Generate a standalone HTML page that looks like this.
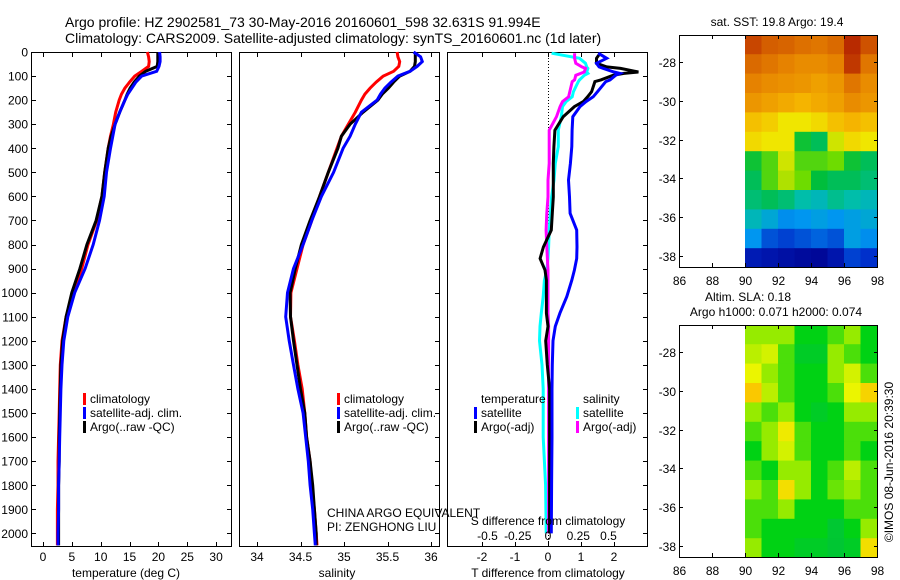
<!DOCTYPE html>
<html><head><meta charset="utf-8"><style>
html,body{margin:0;padding:0;background:#fff}
svg{display:block;font-family:"Liberation Sans",sans-serif}
</style></head><body>
<svg id="c" width="900" height="580" viewBox="0 0 900 580" xmlns="http://www.w3.org/2000/svg">
<text x="65" y="27" font-size="14">Argo profile: HZ 2902581_73 30-May-2016 20160601_598 32.631S 91.994E</text>
<text x="65" y="43" font-size="14">Climatology: CARS2009. Satellite-adjusted climatology: synTS_20160601.nc (1d later)</text>
<g id="g"></g>
</svg>
<script>
const depths=[0,20,40,60,80,100,125,150,175,200,250,300,350,400,500,600,700,800,900,1000,1100,1200,1300,1400,1500,1600,1700,1800,1900,2000,2050];
const tClim=[18.1,18.3,18.4,18.3,17.1,15.9,15.0,14.2,13.6,13.2,12.6,12.2,11.7,11.3,10.7,10.2,9.3,7.8,6.7,5.3,4.0,3.3,3.0,2.9,2.8,2.7,2.6,2.6,2.5,2.5,2.5];
const tSat=[20.2,20.3,20.3,20.1,19.7,17.1,16.1,15.4,14.7,14.2,13.3,12.5,12.1,11.7,11.0,10.6,9.8,8.7,7.3,5.5,4.3,3.6,3.3,3.1,3.0,2.9,2.8,2.7,2.7,2.6,2.6];
const tArgo=[19.9,19.9,19.9,19.8,17.8,16.7,15.8,15.1,14.6,14.2,13.3,12.5,11.8,11.3,10.7,10.2,9.2,7.6,6.4,5.0,4.0,3.4,3.1,3.0,2.9,2.8,2.8,2.7,2.7,2.7,2.7];
const sClim=[35.61,35.62,35.64,35.63,35.57,35.45,35.37,35.30,35.24,35.20,35.13,35.05,34.97,34.92,34.82,34.72,34.63,34.53,34.46,34.39,34.385,34.43,34.47,34.52,34.55,34.57,34.61,34.63,34.66,34.68,34.69];
const sSat=[35.80,35.88,35.90,35.84,35.76,35.62,35.54,35.47,35.42,35.38,35.20,35.13,35.07,34.99,34.88,34.74,34.63,34.53,34.42,34.35,34.33,34.37,34.42,34.47,34.53,34.56,34.59,34.61,34.64,34.66,34.67];
const sArgo=[35.82,35.82,35.82,35.81,35.76,35.64,35.57,35.51,35.44,35.39,35.22,35.07,34.97,34.93,34.82,34.72,34.61,34.51,34.44,34.38,34.385,34.42,34.46,34.50,34.55,34.57,34.61,34.64,34.66,34.68,34.68];
const dDepths=[5,26,47,62,68,83,89,97,116,123,165,186,206,227,269,325,393,463,532,602,670,740,810,858,906,948,1016,1085,1140,1200,1300,1400,1600,1800,2000];
const dtSat=[1.52,1.78,1.47,1.55,1.68,2.0,2.18,2.05,1.88,1.75,1.5,1.37,1.15,0.97,0.75,0.73,0.72,0.68,0.62,0.65,0.67,0.87,0.88,0.87,0.8,0.72,0.57,0.36,0.22,0.15,0.13,0.12,0.12,0.11,0.1];
const dtArgo=[1.58,1.47,1.47,1.78,2.2,2.74,2.3,1.97,1.6,1.42,1.32,1.2,1.07,0.8,0.46,0.21,0.18,0.16,0.16,0.16,0.13,0.1,-0.14,-0.24,-0.09,-0.05,-0.05,-0.05,0.0,-0.07,-0.02,0.05,0.05,0.05,0.05];
const dsSat=[0.03,0.26,0.31,0.32,0.33,0.32,0.33,0.3,0.26,0.25,0.21,0.2,0.15,0.12,0.11,0.085,0.085,0.06,0.05,0.03,0.02,0.01,0.005,0.0,-0.01,-0.03,-0.04,-0.055,-0.066,-0.07,-0.05,-0.04,-0.04,-0.02,-0.015];
const dsArgo=[0.22,0.22,0.23,0.28,0.31,0.3,0.27,0.23,0.22,0.2,0.18,0.17,0.12,0.1,0.07,0.01,0.01,0.01,0.0,0.0,-0.01,-0.016,-0.01,-0.005,0.0,0.0,0.0,0.0,0.005,0.005,0.005,0.005,0.005,0.005,0.005];
const depthTicks=[0,100,200,300,400,500,600,700,800,900,1000,1100,1200,1300,1400,1500,1600,1700,1800,1900,2000];
const tTicks=[0,5,10,15,20,25,30];
const sTicks=[34,34.5,35,35.5,36];
const dtTicks=[-2,-1,0,1,2];
const dsTickLabels=["-0.5","-0.25","0","0.25","0.5"];
const dsTicks=[-0.5,-0.25,0,0.25,0.5];
const latTicks=[-28,-30,-32,-34,-36,-38];
const lonTicks=[86,88,90,92,94,96,98];
const mapLons=[90,91,92,93,94,95,96,97];
const mapLats=[-26.6,-27.6,-28.6,-29.6,-30.6,-31.6,-32.6,-33.6,-34.6,-35.6,-36.6,-37.6];
const sstGrid=[
[0.90,0.86,0.85,0.83,0.82,0.84,0.94,0.88],
[0.84,0.82,0.80,0.78,0.78,0.80,0.92,0.82],
[0.80,0.78,0.77,0.76,0.74,0.76,0.82,0.78],
[0.76,0.74,0.72,0.70,0.72,0.74,0.78,0.76],
[0.68,0.66,0.62,0.62,0.64,0.68,0.70,0.68],
[0.64,0.62,0.62,0.47,0.44,0.60,0.64,0.62],
[0.47,0.52,0.60,0.52,0.52,0.54,0.47,0.44],
[0.44,0.52,0.58,0.54,0.46,0.44,0.44,0.42],
[0.42,0.44,0.42,0.38,0.36,0.40,0.38,0.36],
[0.36,0.32,0.27,0.28,0.30,0.28,0.30,0.32],
[0.28,0.20,0.18,0.20,0.22,0.20,0.30,0.27],
[0.10,0.08,0.06,0.04,0.03,0.08,0.18,0.16]];
const slaGrid=[
[0.55,0.55,0.55,0.45,0.45,0.50,0.55,0.45],
[0.58,0.60,0.50,0.42,0.42,0.55,0.50,0.45],
[0.62,0.55,0.50,0.45,0.45,0.55,0.60,0.50],
[0.70,0.58,0.50,0.45,0.45,0.50,0.62,0.68],
[0.55,0.50,0.55,0.45,0.42,0.45,0.55,0.55],
[0.50,0.55,0.64,0.50,0.45,0.45,0.50,0.50],
[0.45,0.55,0.60,0.50,0.45,0.45,0.50,0.45],
[0.50,0.45,0.55,0.55,0.45,0.50,0.58,0.50],
[0.55,0.50,0.66,0.55,0.45,0.52,0.55,0.50],
[0.50,0.50,0.55,0.45,0.45,0.45,0.50,0.50],
[0.50,0.45,0.45,0.45,0.45,0.40,0.45,0.55],
[0.55,0.45,0.45,0.42,0.42,0.38,0.42,0.66]];

const NS="http://www.w3.org/2000/svg";
const G=document.getElementById('g');
function mk(tag,attrs,parent){const e=document.createElementNS(NS,tag);for(const k in attrs)e.setAttribute(k,attrs[k]);(parent||G).appendChild(e);return e;}
const yD=d=>52+d*0.2407;
const xT=t=>43+t*5.77;
const xS=s=>257+(s-34)*87;
const xDT=v=>548+v*33;
const xDS=v=>548+v*121;
const PT=52,PB=546;
const panels=[[31,231],[239,439],[447,647]];

function panelFrame(i,name,xTickF,ticks){
  const [l,r]=panels[i];
  const f=mk('rect',{x:l+0.5,y:PT+0.5,width:r-l,height:PB-PT,fill:'none',stroke:'#000','stroke-width':1});
  
  
  for(const d of depthTicks){
    const y=Math.round(yD(d))+0.5;
    if(i===0){const t=mk('line',{x1:l,x2:l+5,y1:y,y2:y,stroke:'#000'});}
    const t2=mk('line',{x1:r-4,x2:r+1,y1:y,y2:y,stroke:'#000'});
    
    
  }
  for(const v of ticks){
    const x=Math.round(xTickF(v))+0.5;
    const a=mk('line',{x1:x,x2:x,y1:PT,y2:PT+5,stroke:'#000'});
    
    
    const b=mk('line',{x1:x,x2:x,y1:PB-4,y2:PB+1,stroke:'#000'});
    
    
  }
}
function line(xs,ds,xf,color,name){
  const pts=xs.map((v,k)=>xf(v).toFixed(1)+','+yD(ds[k]).toFixed(1)).join(' ');
  const p=mk('polyline',{points:pts,fill:'none',stroke:color,'stroke-width':3,'stroke-linejoin':'miter'});
  
  
}
function txt(x,y,s,size,anchor,name,extra){
  const t=mk('text',Object.assign({x:x,y:y,'font-size':size,'text-anchor':anchor||'start'},extra||{}));
  t.textContent=s;
  
  
  return t;
}
// depth labels
for(const d of depthTicks){txt(28,yD(d)+4.5,String(d),12,'end','depth-tick-label');}
// panel 1
panelFrame(0,'temperature-panel',xT,tTicks);
line(tClim,depths,xT,'#ff0000','temperature-climatology-line');
line(tArgo,depths,xT,'#000000','temperature-argo-line');
line(tSat,depths,xT,'#0000ff','temperature-satellite-line');
for(const v of tTicks)txt(xT(v),561,String(v),12,'middle','temperature-tick-label');
txt(126,577,'temperature (deg C)',12,'middle','temperature-axis-title');
// panel 2
panelFrame(1,'salinity-panel',xS,sTicks);
line(sClim,depths,xS,'#ff0000','salinity-climatology-line');
line(sArgo,depths,xS,'#000000','salinity-argo-line');
line(sSat,depths,xS,'#0000ff','salinity-satellite-line');
for(const v of sTicks)txt(xS(v),561,String(v),12,'middle','salinity-tick-label');
txt(337,577,'salinity',12,'middle','salinity-axis-title');
// panel 3
panelFrame(2,'difference-panel',xDT,dtTicks);
const z=mk('line',{x1:548.5,x2:548.5,y1:PT,y2:PB,stroke:'#000','stroke-dasharray':'1,2'});


line(dsSat,dDepths,xDS,'#00ffff','salinity-diff-satellite-line');
line(dsArgo,dDepths,xDS,'#ff00ff','salinity-diff-argo-line');
line(dtArgo,dDepths,xDT,'#000000','temperature-diff-argo-line');
line(dtSat,dDepths,xDT,'#0000ff','temperature-diff-satellite-line');
for(const v of dtTicks)txt(xDT(v),561,String(v),12,'middle','t-diff-tick-label');
txt(548,577,'T difference from climatology',12,'middle','t-diff-axis-title');
dsTicks.forEach((v,k)=>txt(xDS(v),540,dsTickLabels[k],12,'middle','s-diff-tick-label'));
txt(548,525,'S difference from climatology',12,'middle','s-diff-axis-title');
// legends
function legend(x,y,color,label,name){
  const r=mk('rect',{x:x,y:y-10,width:3,height:12,fill:color});
  
  
  txt(x+7,y,label,12,'start',name+'-label');
}
legend(83,403,'#ff0000','climatology','legend-p1-climatology');
legend(83,417,'#0000ff','satellite-adj. clim.','legend-p1-satellite');
legend(83,431,'#000000','Argo(..raw -QC)','legend-p1-argo');
legend(337,403,'#ff0000','climatology','legend-p2-climatology');
legend(337,417,'#0000ff','satellite-adj. clim.','legend-p2-satellite');
legend(337,431,'#000000','Argo(..raw -QC)','legend-p2-argo');
txt(481,403,'temperature',12,'start','legend-temperature-heading');
txt(583,403,'salinity',12,'start','legend-salinity-heading');
legend(474,417,'#0000ff','satellite','legend-t-satellite');
legend(474,431,'#000000','Argo(-adj)','legend-t-argo');
legend(576,417,'#00ffff','satellite','legend-s-satellite');
legend(576,431,'#ff00ff','Argo(-adj)','legend-s-argo');
txt(327,517,'CHINA ARGO EQUIVALENT',12,'start','provider-label');
txt(327,531,'PI: ZENGHONG LIU',12,'start','pi-label');
// maps
const stopsSST=[[0,[0,0,140]],[0.15,[0,40,200]],[0.28,[0,150,240]],[0.38,[0,190,170]],[0.46,[0,190,60]],[0.54,[110,220,0]],[0.62,[240,230,0]],[0.7,[245,180,0]],[0.8,[230,130,0]],[0.9,[200,70,0]],[1,[160,0,0]]];
const stopsSLA=[[0,[0,150,60]],[0.4,[0,200,50]],[0.45,[0,210,20]],[0.55,[150,235,0]],[0.62,[235,245,0]],[0.7,[250,200,0]],[1,[250,120,0]]];
function cmap(stops,v){
  for(let i=1;i<stops.length;i++){if(v<=stops[i][0]){const a=stops[i-1],b=stops[i],f=(v-a[0])/(b[0]-a[0]);return 'rgb('+a[1].map((c,k)=>Math.round(c+(b[1][k]-c)*f)).join(',')+')';}}
  return 'rgb('+stops[stops.length-1][1].join(',')+')';
}
const xLon=lon=>679+(lon-86)*16.5;
function map(top,grid,stops,name){
  const yLat=lat=>top+27+(-28-lat)*19.4;
  grid.forEach((row,i)=>row.forEach((v,j)=>{
    const x0=xLon(mapLons[j]),y0=yLat(mapLats[i]);
    const c=mk('rect',{x:x0.toFixed(1),y:Math.max(top,y0).toFixed(1),width:16.9,height:(Math.min(top+232,y0+19.8)-Math.max(top,y0)).toFixed(1),fill:cmap(stops,v)});
    
    
  }));
  const f=mk('rect',{x:679.5,y:top+0.5,width:198,height:232,fill:'none',stroke:'#000'});
  
  
  for(const lat of latTicks){
    const y=Math.round(yLat(lat))+0.5;
    const a=mk('line',{x1:679,x2:683,y1:y,y2:y,stroke:'#000'});
    const b=mk('line',{x1:874,x2:878,y1:y,y2:y,stroke:'#000'});
    txt(676,y+4.5,String(lat),12,'end',name+'-lat-label');
  }
  for(const lon of lonTicks){
    const x=Math.round(xLon(lon))+0.5;
    const a=mk('line',{x1:x,x2:x,y1:top,y2:top+4,stroke:'#000'});
    const b=mk('line',{x1:x,x2:x,y1:top+228,y2:top+232,stroke:'#000'});
    txt(x,top+250,String(lon),12,'middle',name+'-lon-label');
  }
}
map(35,sstGrid,stopsSST,'sst-map');
map(325,slaGrid,stopsSLA,'sla-map');
txt(777,26,'sat. SST: 19.8 Argo: 19.4',12,'middle','sst-map-title');
txt(748,301,'Altim. SLA: 0.18',12,'middle','sla-map-title');
txt(776,316,'Argo h1000: 0.071 h2000: 0.074',12,'middle','sla-map-subtitle');
txt(0,0,'©IMOS 08-Jun-2016 20:39:30',12,'middle','imos-timestamp',{transform:'translate(893,462) rotate(-90)'});
</script>
</body></html>
